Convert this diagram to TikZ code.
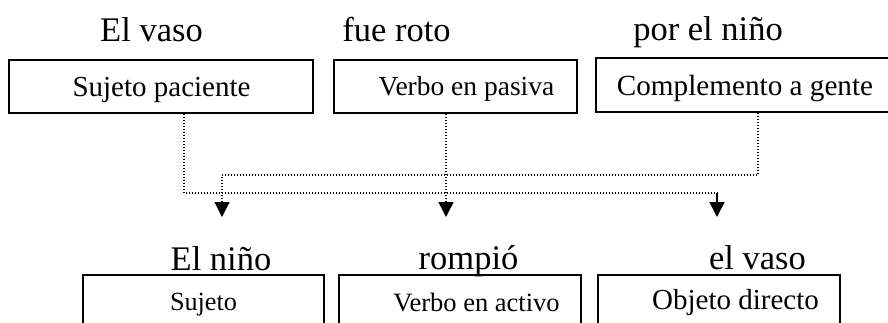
\documentclass[tikz,border=0pt]{standalone}
\usepackage{fontspec}
\setmainfont{Liberation Serif}
\usetikzlibrary{arrows.meta}
\tikzset{caja/.style = {draw, line width=1.3pt, minimum height=53pt, inner sep=0pt},
         palabra/.style = {anchor=base, inner sep=0pt, font=\fontsize{34.5}{36}\selectfont},
         texto/.style = {anchor=base, inner sep=0pt, font=\fontsize{#1}{#1}\selectfont},
         punteado/.style = {line width=1.1pt, dash pattern=on 1.1pt off 1.9pt},
         flecha/.style = {-{Triangle[width=15pt, length=15pt]}}}

\begin{document}
\begin{tikzpicture}[x=1pt, y=-1pt]
    \useasboundingbox (0, 0) rectangle (888, 322);
    \clip (0, 0) rectangle (888, 322);

    \node [palabra] (vaso) at (151.5, 41) {El vaso};
    \node [palabra] (roto) at (396.5, 41) {fue roto};
    \node [palabra] (nino) at (708, 40) {por el niño};
    \node [caja, minimum width=304pt] (pac) at (161, 86.5) {};
    \node [caja, minimum width=243pt] (pas) at (455.5, 86.5) {};
    \node [caja, minimum width=298pt, minimum height=54pt] (age) at (745, 85) {};
    \node [texto=29] (tpac) at (161.5, 96.5) {Sujeto paciente};
    \node [texto=27.5] (tpas) at (466.5, 95) {Verbo en pasiva};
    \node [texto=29.2] (tage) at (745, 95) {Complemento a gente};

    \node [palabra] (nino2) at (221, 270) {El niño};
    \node [palabra] (rompio) at (468.5, 269) {rompió};
    \node [palabra] (vaso2) at (757.5, 269) {el vaso};
    \node [caja, minimum width=241pt] (suj) at (203.5, 301.5) {};
    \node [caja, minimum width=242pt] (act) at (460, 301.5) {};
    \node [caja, minimum width=242pt] (obj) at (719, 301.5) {};
    \node [texto=26.2] (tsuj) at (203.5, 310) {Sujeto};
    \node [texto=26.5] (tact) at (476.5, 311) {Verbo en activo};
    \node [texto=29] (tobj) at (735.5, 309.5) {Objeto directo};

    \coordinate (fsuj) at (222, 217);
    \coordinate (fver) at (446, 217);
    \coordinate (fobj) at (717, 217);

    \draw [punteado] ([xshift=23pt]pac.south) |- ([yshift=24pt]fobj);
    \draw [line width=1.6pt, flecha] ([yshift=24pt]fobj) -- (fobj);
    \draw [punteado, line width=1.5pt, dash pattern=on 1.5pt off 1.5pt, flecha] (pas.south -| fver) -- (fver);
    \draw [punteado, flecha] ([xshift=13pt]age.south) |- ([yshift=42pt]fsuj) -- (fsuj);
\end{tikzpicture}
\end{document}
